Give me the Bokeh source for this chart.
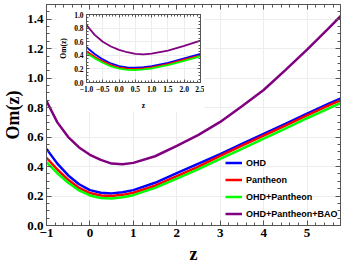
from bokeh.plotting import figure
from bokeh.models import (Range1d, LinearAxis, Legend, LegendItem,
                          SingleIntervalTicker, PrintfTickFormatter,
                          CustomLabelingPolicy)
from bokeh.embed import file_html
from bokeh.resources import INLINE

# ---- data ----
z = [-1.0, -0.75, -0.5, -0.25, 0.0, 0.25, 0.5, 0.75, 1.0, 1.5, 2.0, 2.5,
     3.0, 3.5, 4.0, 4.5, 5.0, 5.5, 5.8]
om_ohd = [0.52, 0.42, 0.34, 0.28, 0.24, 0.222, 0.218, 0.226, 0.24, 0.29,
          0.355, 0.42, 0.485, 0.554, 0.622, 0.69, 0.76, 0.827, 0.865]
om_pantheon = [0.46, 0.38, 0.31, 0.255, 0.22, 0.203, 0.200, 0.208, 0.222,
               0.27, 0.335, 0.40, 0.472, 0.542, 0.61, 0.678, 0.748, 0.815, 0.853]
om_ohd_pan = [0.43, 0.355, 0.29, 0.238, 0.204, 0.187, 0.184, 0.192, 0.206,
              0.255, 0.318, 0.383, 0.452, 0.52, 0.59, 0.658, 0.728, 0.795, 0.835]
om_ohd_pan_bao = [0.845, 0.70, 0.60, 0.53, 0.48, 0.445, 0.42, 0.415, 0.425,
                  0.47, 0.54, 0.615, 0.703, 0.81, 0.92, 1.055, 1.194, 1.34, 1.43]

series_names = ["OHD", "Pantheon", "OHD+Pantheon", "OHD+Pantheon+BAO"]
series_values = [om_ohd, om_pantheon, om_ohd_pan, om_ohd_pan_bao]
series_colors = ["#0000ff", "#ff0000", "#00ff00", "#800080"]

main_x_labels = {-1: "\u22121"}
inset_x_labels = {-1: "\u22121.0", -0.5: "\u22120.5"}

SERIF = "Liberation Serif"
SANS = "Liberation Sans"
FRAME = "#555555"
GRID = "#ededed"

NO_LABELS = CustomLabelingPolicy(code="""
try { for (const i of Array.from(indices)) indices.unset(i) } catch (e) {}
return indices
""")


def tick_style(ax, tick_len, minor_len):
    ax.major_tick_in = tick_len
    ax.major_tick_out = 0
    ax.minor_tick_in = minor_len
    ax.minor_tick_out = 0
    ax.major_tick_line_color = FRAME
    ax.minor_tick_line_color = FRAME
    ax.axis_line_color = FRAME


def build(fig, xint, xminor, yint, yminor, label_size, title_size,
          tick_len, minor_len, x_overrides, standoff, xlab_standoff, ylab_standoff):
    bottom = fig.below[0]
    left = fig.left[0]
    for ax in (bottom, left):
        tick_style(ax, tick_len, minor_len)
        ax.major_label_text_font = SERIF
        ax.major_label_text_font_style = "bold"
        ax.major_label_text_font_size = label_size
        ax.major_label_text_color = "black"
        ax.major_label_standoff = standoff
        ax.axis_label_text_font = SERIF
        ax.axis_label_text_font_style = "bold"
        ax.axis_label_text_font_size = title_size
        ax.axis_label_text_color = "black"
        ax.formatter = PrintfTickFormatter(format="%.1f")
    bottom.ticker = SingleIntervalTicker(interval=xint, num_minor_ticks=xminor)
    left.ticker = SingleIntervalTicker(interval=yint, num_minor_ticks=yminor)
    bottom.major_label_overrides = x_overrides
    bottom.axis_label = "z"
    left.axis_label = "Om(z)"
    bottom.axis_label_standoff = xlab_standoff
    left.axis_label_standoff = ylab_standoff
    fig.xgrid.ticker = SingleIntervalTicker(interval=xint)
    fig.ygrid.ticker = SingleIntervalTicker(interval=yint)
    fig.grid.grid_line_color = GRID
    fig.outline_line_color = FRAME

    top = LinearAxis(ticker=SingleIntervalTicker(interval=xint, num_minor_ticks=xminor))
    right = LinearAxis(ticker=SingleIntervalTicker(interval=yint, num_minor_ticks=yminor))
    for ax in (top, right):
        tick_style(ax, tick_len, minor_len)
        ax.major_label_text_font_size = "1px"
        ax.major_label_standoff = 0
        ax.major_label_policy = NO_LABELS
    fig.add_layout(top, "above")
    fig.add_layout(right, "right")


# ---- main figure ----
p = figure(width=344, height=268, x_range=Range1d(-1, 5.77), y_range=Range1d(0, 1.5),
           output_backend="svg", toolbar_location=None,
           min_border_left=44, min_border_right=2, min_border_top=1, min_border_bottom=43,
           background_fill_color="white", border_fill_color="white",
           styles={"position": "absolute", "left": "0px", "top": "0px"})
build(p, 1, 5, 0.2, 4, "13px", "18px", 5, 3, main_x_labels, 3, 4, 1)
p.below[0].formatter = PrintfTickFormatter(format="%d")

items = []
for name, vals, col in zip(series_names, series_values, series_colors):
    r = p.line(z, vals, line_color=col, line_width=2.5)
    items.append(LegendItem(label=name, renderers=[r]))

legend = Legend(items=items, location=(179, 3), orientation="vertical",
                label_text_font=SANS, label_text_font_style="bold",
                label_text_font_size="9px", label_text_color="black",
                glyph_width=17, glyph_height=17, label_height=17, label_standoff=4,
                spacing=0, padding=2, margin=0,
                background_fill_alpha=0, border_line_color=None)
p.add_layout(legend, "center")

# ---- inset ----
ins = figure(width=148, height=102, x_range=Range1d(-1, 2.5), y_range=Range1d(0, 1.0),
             output_backend="svg", toolbar_location=None,
             min_border_left=30, min_border_right=4, min_border_top=4, min_border_bottom=27,
             background_fill_color="white", border_fill_color="white",
             styles={"position": "absolute", "left": "56px", "top": "10px"})
build(ins, 0.5, 5, 0.2, 4, "7.5px", "7.5px", 3, 2, inset_x_labels, 3, 6, 3)
for vals, col in zip(series_values, series_colors):
    ins.line(z, vals, line_color=col, line_width=1.8)

open("out.html", "w").write(file_html([p, ins], INLINE))
